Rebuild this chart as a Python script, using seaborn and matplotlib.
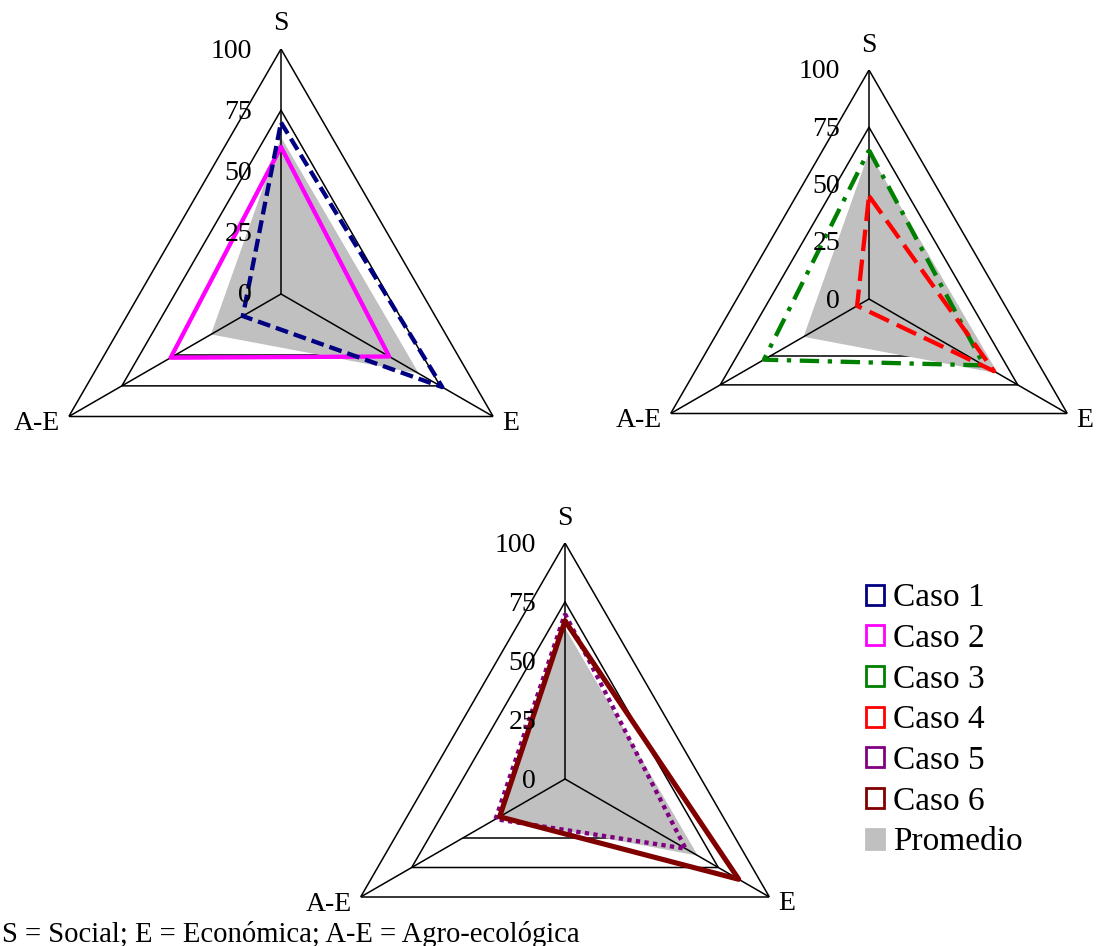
import numpy as np
import matplotlib
matplotlib.use('Agg')
import matplotlib.pyplot as plt
import seaborn as sns
from matplotlib.patches import Patch

# ---------- datos ----------
ejes = ['S', 'E', 'A-E']
casos = ['Caso 1', 'Caso 2', 'Caso 3', 'Caso 4', 'Caso 5', 'Caso 6']
caso1 = [70, 76, 18]
caso2 = [60, 51, 52]
caso3 = [65, 58, 53]
caso4 = [45, 63, 6]
caso5 = [70, 59, 34]
caso6 = [67, 85, 32]
promedio = [64, 65, 33]
ticks_r = [0, 25, 50, 75, 100]
nota = 'S = Social; E = Económica; A-E = Agro-ecológica'

valores = dict(zip(casos, [caso1, caso2, caso3, caso4, caso5, caso6]))

# estilo de cada caso: color, linea, grosor
estilos = {
    'Caso 1': ('#000080', (0, (3, 1.4)), 3.1),
    'Caso 2': ('#FF00FF', '-', 3.1),
    'Caso 3': ('#008000', (0, (4.5, 2, 1, 2)), 3.1),
    'Caso 4': ('#FF0000', (0, (5, 2)), 3.1),
    'Caso 5': ('#800080', (0, (1, 1)), 3.1),
    'Caso 6': ('#800000', '-', 3.7),
}
gris = '#C0C0C0'

sns.set_theme(style='white')
plt.rcParams['font.family'] = ['Liberation Serif', 'DejaVu Serif']
plt.rcParams['text.color'] = 'black'

W, H = 1097, 946
fig = plt.figure(figsize=(W / 100, H / 100), dpi=100)

theta = np.array([0, 2 * np.pi / 3, 4 * np.pi / 3])
th_c = np.append(theta, theta[0])


def cerrar(v):
    return list(v) + [v[0]]


def dibujar_radar(cx, cy, R, series):
    ax = fig.add_axes([(cx - R) / W, (H - cy - R) / H, 2 * R / W, 2 * R / H],
                      projection='polar')
    ax.set_theta_zero_location('N')
    ax.set_theta_direction(-1)
    ax.set_ylim(0, 100)
    ax.grid(False)
    ax.set_xticks([])
    ax.set_yticks([])
    ax.spines['polar'].set_visible(False)
    ax.patch.set_visible(False)

    # rejilla triangular
    for nivel in [75, 100]:
        ax.plot(th_c, [nivel] * 4, color='black', lw=1.1, zorder=1)
    ax.plot(theta[1:], [50, 50], color='black', lw=1.1, zorder=1)

    # promedio relleno
    ax.fill(th_c, cerrar(promedio), color=gris, lw=0, zorder=2)

    # radios
    for t in theta:
        ax.plot([t, t], [0, 100], color='black', lw=1.1, zorder=3)

    for caso in series:
        color, ls, lw = estilos[caso]
        sns.lineplot(x=th_c, y=cerrar(valores[caso]), sort=False, estimator=None,
                     ax=ax, color=color, linestyle=ls, linewidth=lw, zorder=4,
                     dash_capstyle='butt')
    ax.set_xlabel('')
    ax.set_ylabel('')

    # etiquetas de ejes
    ax.annotate(ejes[0], xy=(theta[0], 100), xytext=(0, 25), textcoords='offset pixels',
                ha='center', va='center', fontsize=20, annotation_clip=False)
    ax.annotate(ejes[1], xy=(theta[1], 100), xytext=(9, -7), textcoords='offset pixels',
                ha='left', va='center', fontsize=20, annotation_clip=False)
    ax.annotate(ejes[2], xy=(theta[2], 100), xytext=(-9, -7), textcoords='offset pixels',
                ha='right', va='center', fontsize=20, annotation_clip=False)
    for t in ticks_r:
        ax.annotate(str(t), xy=(0, t), xytext=(-29, -2), textcoords='offset pixels',
                    ha='right', va='center', fontsize=20, annotation_clip=False,
                    zorder=5)
    return ax


dibujar_radar(281, 294, 245, ['Caso 2', 'Caso 1'])
dibujar_radar(869, 299, 229, ['Caso 3', 'Caso 4'])
dibujar_radar(565, 779, 236, ['Caso 5', 'Caso 6'])

# leyenda
handles = [Patch(facecolor='white', edgecolor=estilos[c][0], linewidth=2.0) for c in casos]
handles.append(Patch(facecolor=gris, edgecolor=gris, linewidth=2.0))
fig.legend(handles, casos + ['Promedio'], loc='upper left',
           bbox_to_anchor=(866 / W, 1 - 583 / H), frameon=False, fontsize=24,
           handlelength=0.55, handleheight=0.55, handletextpad=0.25,
           labelspacing=0.305, borderpad=0, borderaxespad=0)

fig.text(2 / W, 4 / H, nota, ha='left', va='baseline', fontsize=20.6)

fig.savefig('out.png', dpi=100)
plt.close(fig)
